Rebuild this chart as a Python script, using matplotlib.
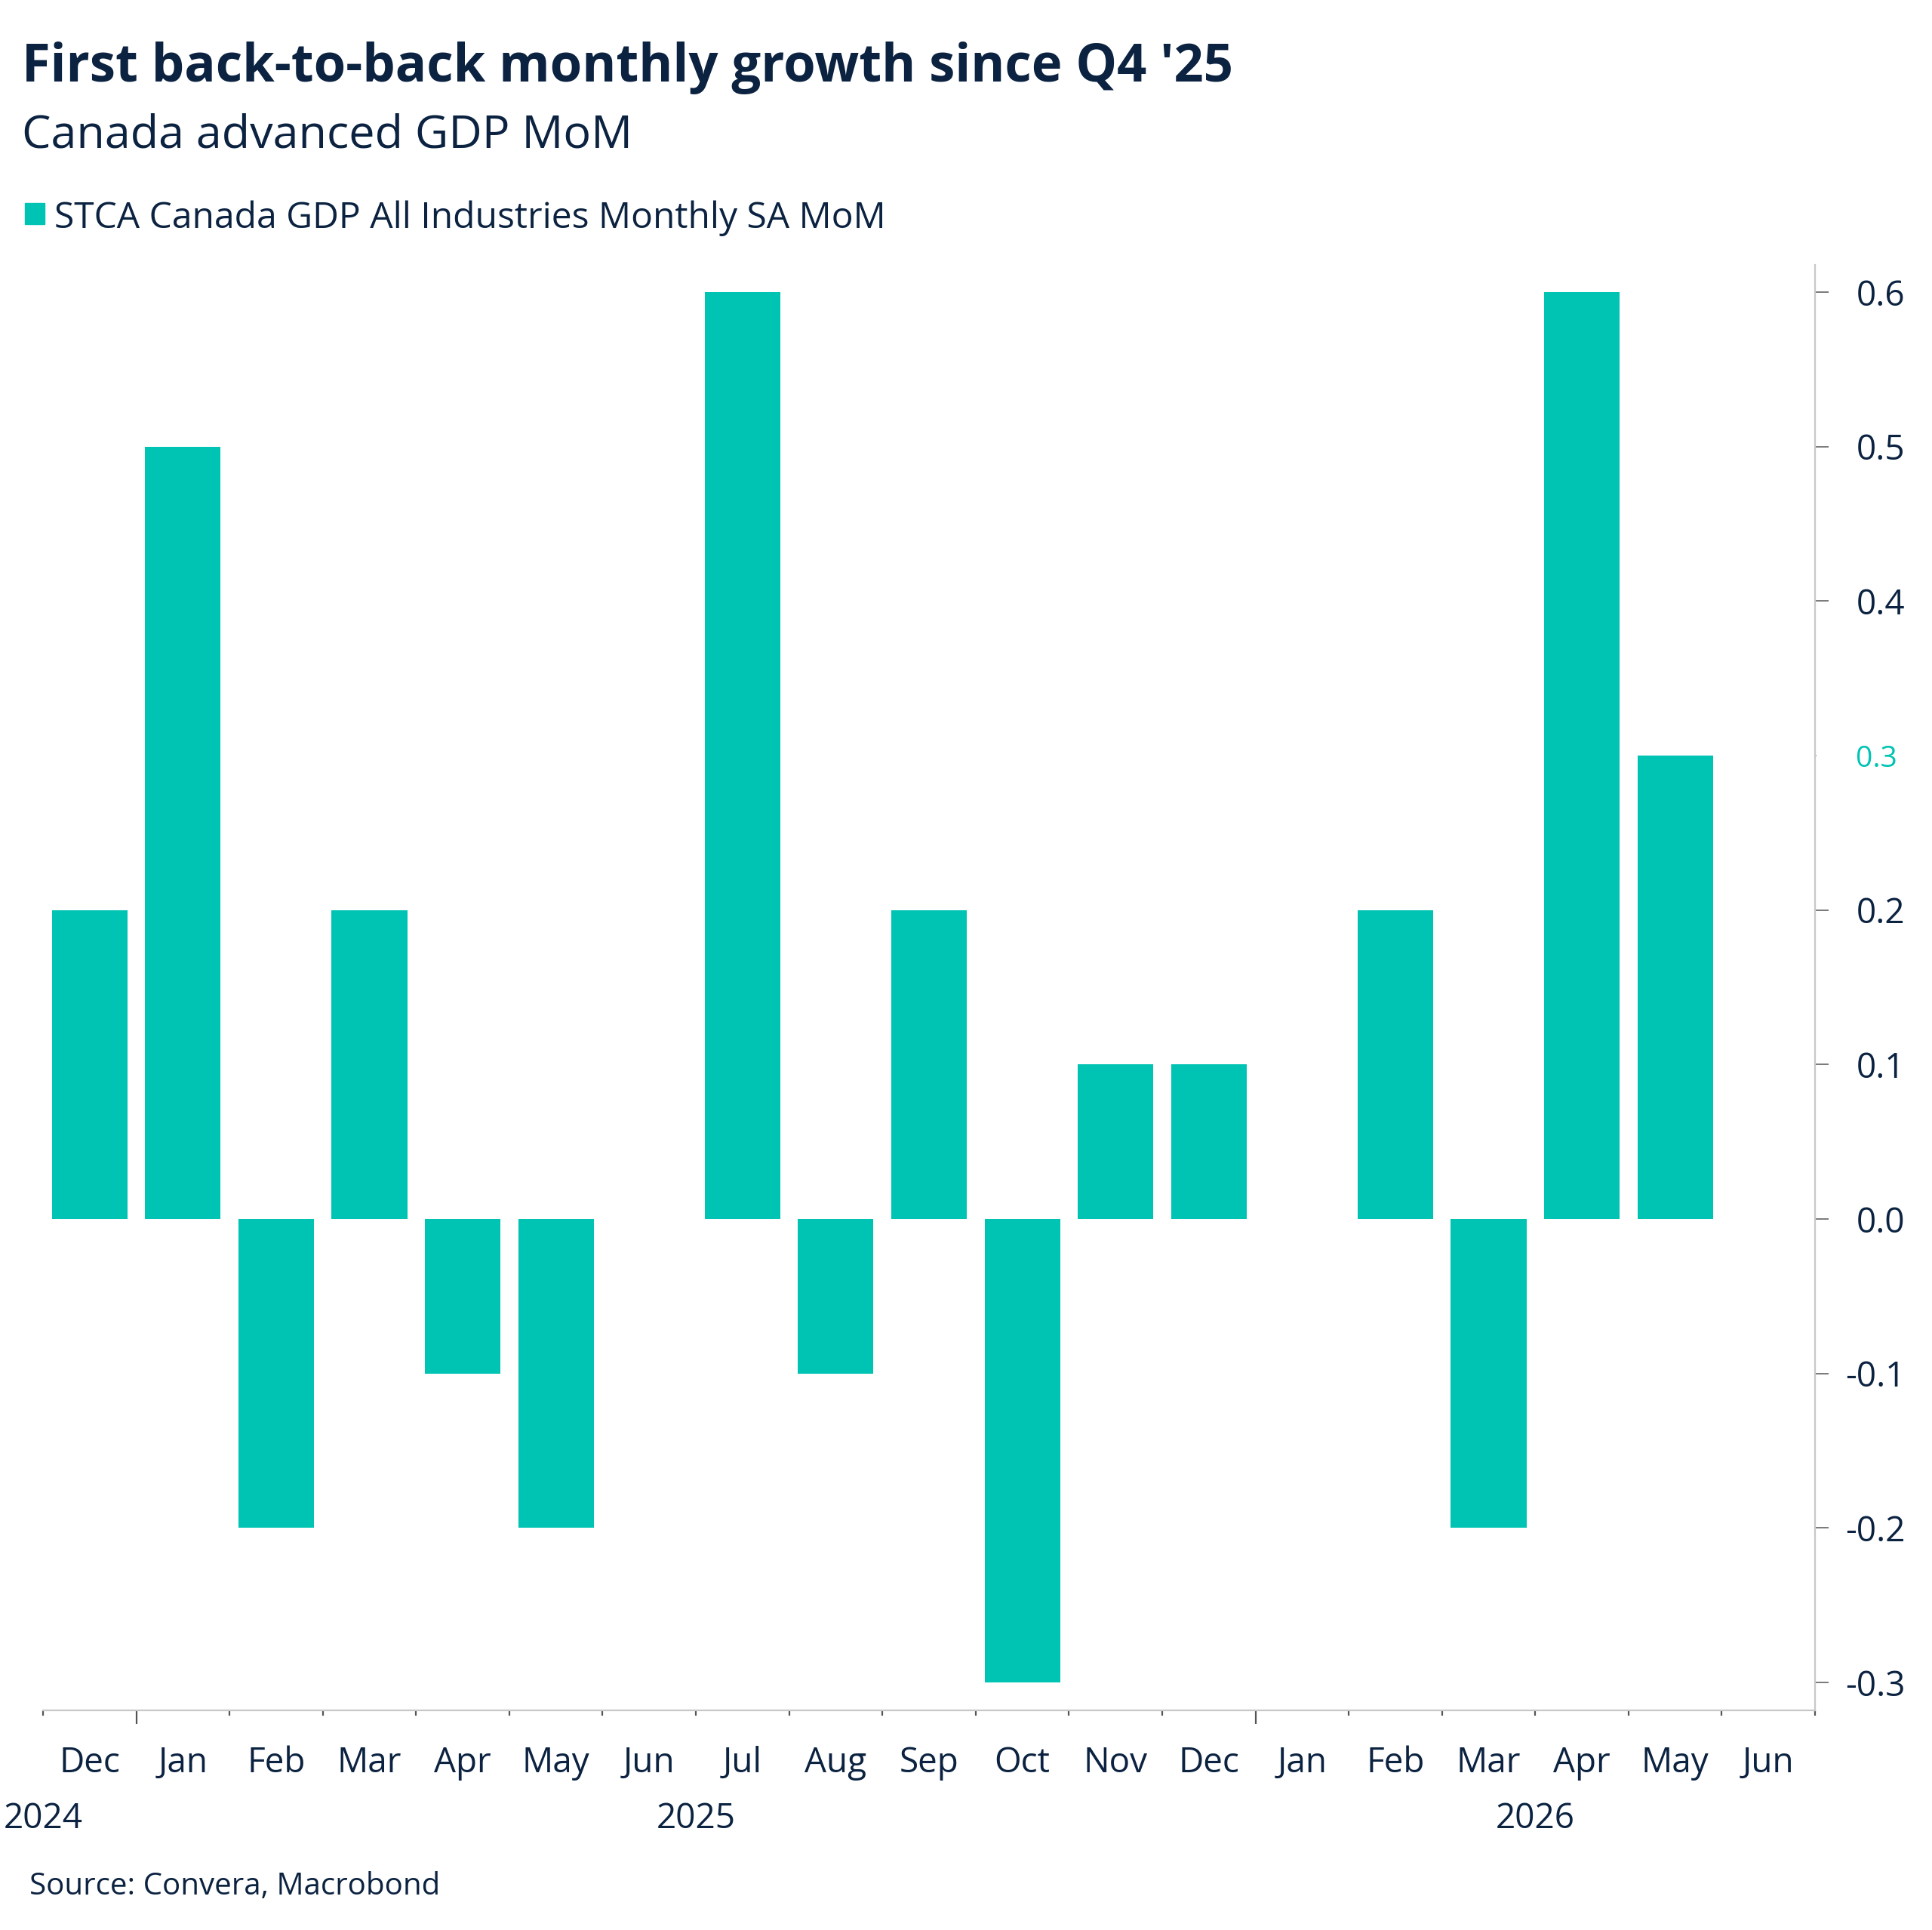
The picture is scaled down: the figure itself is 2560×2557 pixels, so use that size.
import numpy as np
import matplotlib
matplotlib.use('Agg')
import matplotlib.pyplot as plt
from matplotlib.transforms import blended_transform_factory

plt.rcParams['font.family'] = ['Open Sans', 'DejaVu Sans']

navy = '#0b2240'
teal = '#00c4b3'

months = ['Dec', 'Jan', 'Feb', 'Mar', 'Apr', 'May', 'Jun', 'Jul', 'Aug', 'Sep',
          'Oct', 'Nov', 'Dec', 'Jan', 'Feb', 'Mar', 'Apr', 'May', 'Jun']
mom = [0.2, 0.5, -0.2, 0.2, -0.1, -0.2, 0.0, 0.6, -0.1, 0.2,
       -0.3, 0.1, 0.1, 0.0, 0.2, -0.2, 0.6, 0.3, np.nan]
years = ['2024', '2025', '2026']
year_pos = [-0.5, 6.5, 15.5]   # where the year labels sit (month index)
jan_idx = [1, 13]              # January positions -> longer ticks
yticks = [-0.3, -0.2, -0.1, 0.0, 0.1, 0.2, 0.4, 0.5, 0.6]

W, H = 2560, 2557
fig = plt.figure(figsize=(W / 100, H / 100), dpi=100)
ax = fig.add_axes([57 / W, 1 - 2266 / H, (2405 - 57) / W, (2266 - 351) / H])

x = np.arange(len(months))
ax.bar(x, mom, width=0.81, color=teal)

ax.set_xlim(-0.5, len(months) - 0.5)
ax.set_ylim(-0.318, 0.6176)

# spines
for s in ['top', 'left']:
    ax.spines[s].set_visible(False)
for s in ['right', 'bottom']:
    ax.spines[s].set_color('#c8c8c8')
    ax.spines[s].set_linewidth(1.6)

# y axis on the right, labels right-aligned
ax.yaxis.tick_right()
ax.set_yticks(yticks)
ax.set_yticklabels(['%.1f' % v for v in yticks])
ax.tick_params(axis='y', which='major', length=13, width=1.1, color='#555555',
               labelsize=33, labelcolor=navy, pad=73)
for lbl in ax.get_yticklabels():
    lbl.set_ha('right')

# last value label
last = [v for v in mom if not np.isnan(v)][-1]
ax.set_yticks([last], minor=True)
ax.tick_params(axis='y', which='minor', length=1.5, width=1.1, color='#888888',
               labelright=False)
tr = blended_transform_factory(fig.transFigure, ax.transData)
ax.text(2459 / W, last, '%.1f' % last, transform=tr, color=teal, fontsize=28,
        ha='left', va='center_baseline')

# x ticks: long at January boundary, short elsewhere
bounds = np.arange(len(months) + 1) - 0.5
ax.set_xticks([j - 0.5 for j in jan_idx])
ax.set_xticks([b for b in bounds if b + 0.5 not in jan_idx], minor=True)
ax.tick_params(axis='x', which='major', length=13, width=1.6, color='#555555',
               labelbottom=False)
ax.tick_params(axis='x', which='minor', length=5, width=1.6, color='#555555',
               labelbottom=False)

trx = blended_transform_factory(ax.transData, fig.transFigure)
for i, m in enumerate(months):
    ax.text(i, 1 - 2348 / H, m, transform=trx, ha='center', va='baseline',
            fontsize=33, color=navy)
for p, yr in zip(year_pos, years):
    ax.text(p, 1 - 2422 / H, yr, transform=trx, ha='center', va='baseline',
            fontsize=33, color=navy)

# titles, legend, source
fig.text(29 / W, 1 - 108 / H, "First back-to-back monthly growth since Q4 '25",
         fontsize=49.5, fontweight='bold', color=navy, va='baseline')
fig.text(29 / W, 1 - 196 / H, 'Canada advanced GDP MoM', fontsize=44,
         color=navy, va='baseline')
fig.patches.append(plt.Rectangle((33 / W, 1 - 297 / H), 26 / W, 28 / H,
                                 transform=fig.transFigure, color=teal))
fig.text(72 / W, 1 - 302 / H, 'STCA Canada GDP All Industries Monthly SA MoM',
         fontsize=34.6, color=navy, va='baseline')
fig.text(39 / W, 1 - 2510 / H, 'Source: Convera, Macrobond', fontsize=29,
         color=navy, va='baseline')

fig.savefig('out.png', dpi=100, facecolor='white')
